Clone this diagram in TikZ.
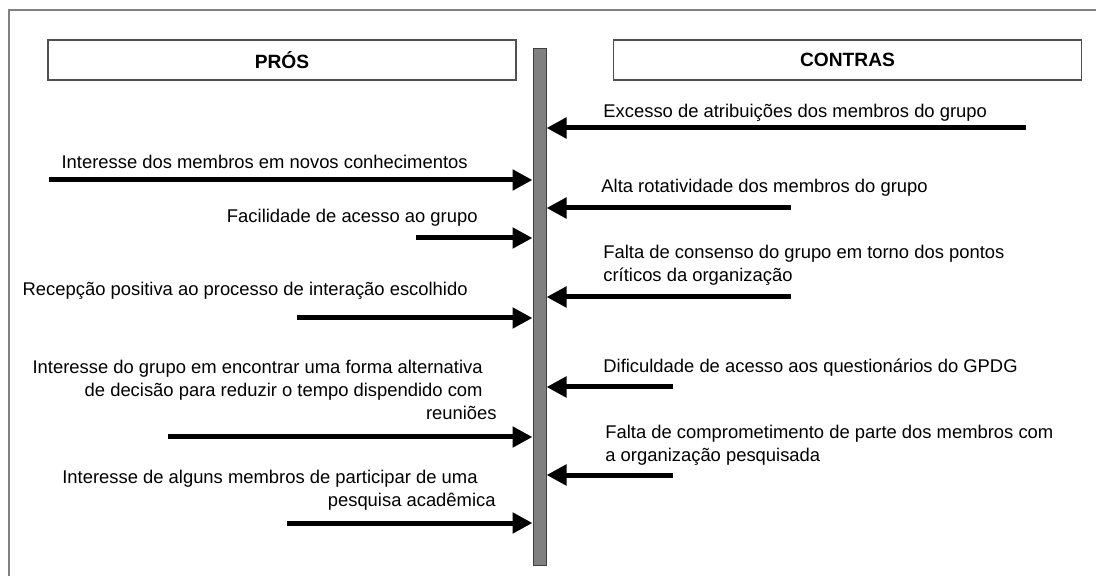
\documentclass[tikz,border=0pt]{standalone}
\usepackage{fontspec}
\setmainfont{Liberation Sans}
\usetikzlibrary{arrows.meta}
\definecolor{cinzamoldura}{RGB}{128,128,128}
\definecolor{cinzaborda}{RGB}{80,80,80}
\definecolor{cinzabarra}{RGB}{128,128,128}
\tikzset{
  titulo/.style={rectangle,draw=cinzaborda,line width=0.75pt,minimum width=234pt,
    minimum height=20pt,inner sep=0pt,font=\fontsize{9.6}{11.5}\selectfont\bfseries},
  texto/.style={inner sep=0pt,font=\fontsize{9.2}{11.5}\selectfont},
  pro/.style={texto,align=right},
  contra/.style={texto,align=left},
  barra/.style={rectangle,draw=black!75,fill=cinzabarra,line width=0.5pt,
    minimum width=6.5pt,minimum height=258pt,inner sep=0pt},
  seta/.style={-{Triangle[length=10pt,width=10pt]},line width=2.5pt,black}
}

\begin{document}
\begin{tikzpicture}[x=0.5pt,y=-0.5pt]
\useasboundingbox (0,0) rectangle (1096,576);
\clip (0,0) rectangle (1096,576);
\draw[cinzamoldura,line width=0.6pt] (9,10) rectangle (1110,590);

% cabecalhos
\node[titulo] (pros) at (282,60) {PRÓS};
\node[titulo] (contras) at (847.5,60) {CONTRAS};

% barra central
\node[barra] (eixo) at (539.5,307) {};

% pros
\node[pro,anchor=base east] (p1) at (468,169) {Interesse dos membros em novos conhecimentos};
\coordinate (p1s) at (49,180);
\draw[seta] (p1s) -- (p1s -| eixo.west);

\node[pro,anchor=base east] (p2) at (478,223) {Facilidade de acesso ao grupo};
\coordinate (p2s) at (416,238);
\draw[seta] (p2s) -- (p2s -| eixo.west);

\node[pro,anchor=base east] (p3) at (468,296) {Recepção positiva ao processo de interação escolhido};
\coordinate (p3s) at (297,318);
\draw[seta] (p3s) -- (p3s -| eixo.west);

\node[pro,anchor=north east] (p4) at (483,359.8) {Interesse do grupo em encontrar uma forma alternativa\\
  de decisão para reduzir o tempo dispendido com\\reuniões\hspace*{-7pt}};
\coordinate (p4s) at (168,437);
\draw[seta] (p4s) -- (p4s -| eixo.west);

\node[pro,anchor=north east] (p5) at (478,469.8) {Interesse de alguns membros de participar de uma\\
  pesquisa acadêmica\hspace*{-9pt}};
\coordinate (p5s) at (287,523);
\draw[seta] (p5s) -- (p5s -| eixo.west);

% contras
\node[contra,anchor=base west] (c1) at (603,118) {Excesso de atribuições dos membros do grupo};
\coordinate (c1s) at (1026,128);
\draw[seta] (c1s) -- (c1s -| eixo.east);

\node[contra,anchor=base west] (c2) at (601,193) {Alta rotatividade dos membros do grupo};
\coordinate (c2s) at (791,208);
\draw[seta] (c2s) -- (c2s -| eixo.east);

\node[contra,anchor=north west] (c3) at (603,244.8) {Falta de consenso do grupo em torno dos pontos\\
  críticos da organização};
\coordinate (c3s) at (791,297);
\draw[seta] (c3s) -- (c3s -| eixo.east);

\node[contra,anchor=base west] (c4) at (603,373) {Dificuldade de acesso aos questionários do GPDG};
\coordinate (c4s) at (673,387);
\draw[seta] (c4s) -- (c4s -| eixo.east);

\node[contra,anchor=north west] (c5) at (605,424.8) {Falta de comprometimento de parte dos membros com\\
  a organização pesquisada};
\coordinate (c5s) at (673,475);
\draw[seta] (c5s) -- (c5s -| eixo.east);
\end{tikzpicture}
\end{document}
